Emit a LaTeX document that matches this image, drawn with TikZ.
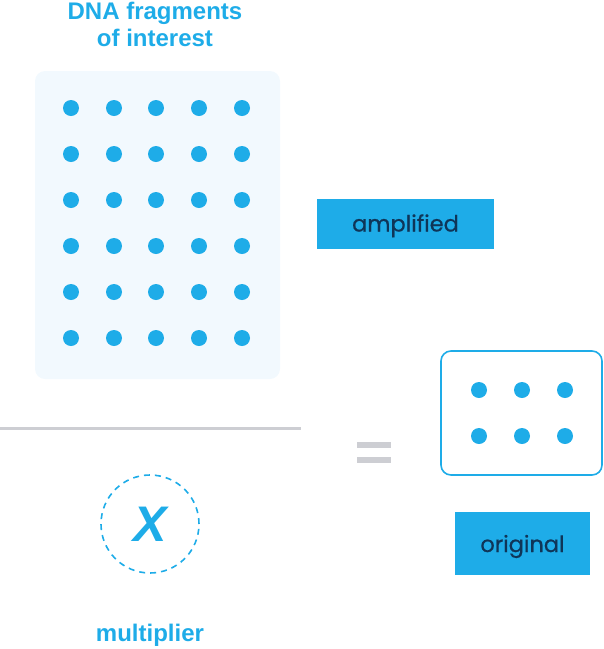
\documentclass[tikz,border=0pt]{standalone}
\usepackage{fontspec}
\setmainfont{Liberation Sans}
\newfontfamily\boxfont{Poppins}[FakeBold=0.6]
\usepackage{xcolor}
\usetikzlibrary{positioning, calc}
\definecolor{dblue}{HTML}{1EACE8}
\definecolor{dnavy}{HTML}{0F3558}
\definecolor{dpanel}{HTML}{F2F9FE}
\definecolor{dgray}{HTML}{CDCED3}

\begin{document}
\begin{tikzpicture}[x=1pt, y=-1pt,
  dot/.style={circle, fill=dblue, inner sep=0pt, minimum size=16pt},
  title/.style={font=\fontsize{24}{27}\selectfont\bfseries, text=dblue, align=center},
  tag/.style={fill=dblue, inner sep=0pt, text=dnavy, font=\boxfont\fontsize{22.5}{24}\selectfont}]

  \useasboundingbox (0,0) rectangle (604,649);

  % ── Heading ──
  \node[title] (head) at (155,24.5) {DNA fragments\\of interest};

  % ── Fragment panel, 5 x 6 dots ──
  \draw[fill=dpanel, draw=none, rounded corners=10pt] (35,71) rectangle (280,379);
  \foreach \c [count=\i] in {71,114,156,199,242}
    \foreach \r [count=\j] in {108,154,200,246,292,338}
      \node[dot] (f-\i-\j) at (\c,\r) {};

  % ── Fraction bar ──
  \draw[dgray, line width=3pt] (0,428) -- (301,428);

  % ── Multiplier ──
  \node[circle, draw=dblue, line width=1.6pt, dash pattern=on 6pt off 5pt,
        minimum size=98pt] (mult) at (150,524) {};
  \node[font=\fontsize{50}{50}\selectfont\bfseries\itshape, text=dblue] (xsym) at (mult) {X};
  \node[title] (mlabel) at (150,635) {multiplier};

  % ── Equals sign ──
  \draw[dgray, line width=6pt] (357,444.5) -- (391,444.5);
  \draw[dgray, line width=6pt] (357,460) -- (391,460);

  % ── Original panel, 3 x 2 dots ──
  \draw[draw=dblue, line width=1.6pt, rounded corners=10pt] (441,351) rectangle (602,475);
  \foreach \c [count=\i] in {479,522,565}
    \foreach \r [count=\j] in {390,436}
      \node[dot] (o-\i-\j) at (\c,\r) {};

  % ── Tags ──
  \node[tag, minimum width=177pt, minimum height=50pt] (amp) at (405.5,224)
    {\raisebox{-7.5pt}[0pt][0pt]{amplified}};
  \node[tag, minimum width=135pt, minimum height=63pt] (orig) at (522.5,543.5)
    {\raisebox{-8.5pt}[0pt][0pt]{original}};

\end{tikzpicture}
\end{document}
